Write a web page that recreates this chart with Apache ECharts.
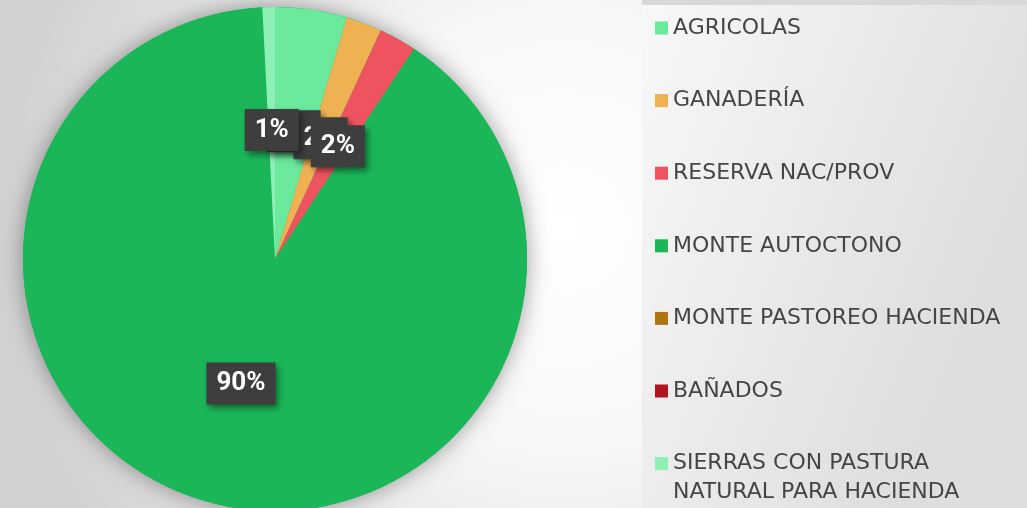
<!DOCTYPE html>
<html>
<head>
<meta charset="utf-8">
<script src="https://cdn.jsdelivr.net/npm/echarts@6/dist/echarts.min.js"></script>
<style>
html,body{margin:0;padding:0;background:#fff;}
#chart{width:1027px;height:508px;}
</style>
</head>
<body>
<div id="chart"></div>
<script>
// categorias (orden de la leyenda) y porcentaje de superficie
var categorias = ['AGRICOLAS', 'GANADERÍA', 'RESERVA NAC/PROV', 'MONTE AUTOCTONO',
	'MONTE PASTOREO HACIENDA', 'BAÑADOS', 'SIERRAS CON PASTURA NATURAL PARA HACIENDA'];
var valores = [4.6, 2.3, 2.4, 89.9, 0, 0, 0.8];
var colores = ['#6be99d', '#efb253', '#ef5360', '#1ab658', '#b07414', '#b01421', '#8ff0b5'];

var chart = echarts.init(document.getElementById('chart'));

var datos = [];
for (var i = 0; i < categorias.length; i++) {
	datos.push({
		name: categorias[i],
		value: valores[i],
		itemStyle: {color: colores[i]},
		label: {show: valores[i] > 0}
	});
}

var fuente = '"DejaVu Sans", sans-serif';

var option = {
	backgroundColor: {
		type: 'radial', x: 0.55, y: 0.45, r: 1.1,
		colorStops: [
			{offset: 0, color: '#ffffff'},
			{offset: 0.4, color: '#f7f7f7'},
			{offset: 1, color: '#d2d2d2'}
		]
	},
	graphic: [
		{
			type: 'rect', left: 642, top: 5, z: -1,
			shape: {width: 385, height: 503},
			style: {
				fill: {
					type: 'linear', x: 0, y: 0, x2: 1, y2: 0.3,
					colorStops: [{offset: 0, color: '#f8f8f8'}, {offset: 1, color: '#dedede'}]
				}
			}
		},
		{
			type: 'rect', left: 642, top: 0, z: -1,
			shape: {width: 385, height: 5},
			style: {fill: '#d8d8d8'}
		},
		{
			// segunda linea del ultimo elemento de la leyenda
			type: 'text', left: 673, top: 481,
			style: {text: 'NATURAL PARA HACIENDA', font: '22px ' + fuente, fill: '#454545'}
		}
	],
	legend: {
		orient: 'vertical',
		left: 655,
		top: 15,
		padding: 0,
		icon: 'rect',
		itemWidth: 13,
		itemHeight: 13,
		itemGap: 46.6,
		selectedMode: false,
		formatter: function (name) {
			return name === categorias[6] ? 'SIERRAS CON PASTURA' : name;
		},
		textStyle: {fontFamily: fuente, fontSize: 22, color: '#454545', lineHeight: 26},
		data: categorias
	},
	series: [
		{
			// sombra de la torta
			type: 'pie',
			center: [275, 259],
			radius: [0, 252],
			silent: true,
			label: {show: false},
			labelLine: {show: false},
			itemStyle: {
				color: '#1ab658',
				shadowBlur: 22,
				shadowColor: 'rgba(0,0,0,0.38)'
			},
			data: [{name: 'fondo', value: 1}]
		},
		{
			type: 'pie',
			center: [275, 259],
			radius: [0, 252],
			startAngle: 90,
			clockwise: true,
			avoidLabelOverlap: false,
			silent: true,
			label: {
				position: 'inside',
				formatter: function (p) {
					return Math.round(p.value) + '%';
				},
				fontFamily: 'Roboto, sans-serif',
				fontWeight: 'bold',
				fontSize: 26,
				lineHeight: 26,
				color: '#fff',
				backgroundColor: '#3e3e3e',
				padding: [8, 10, 8, 10],
				shadowBlur: 6,
				shadowOffsetX: 3,
				shadowOffsetY: 4,
				shadowColor: 'rgba(0,0,0,0.45)'
			},
			labelLayout: {hideOverlap: false},
			labelLine: {show: false},
			data: datos
		}
	]
};

chart.setOption(option);
</script>
</body>
</html>
